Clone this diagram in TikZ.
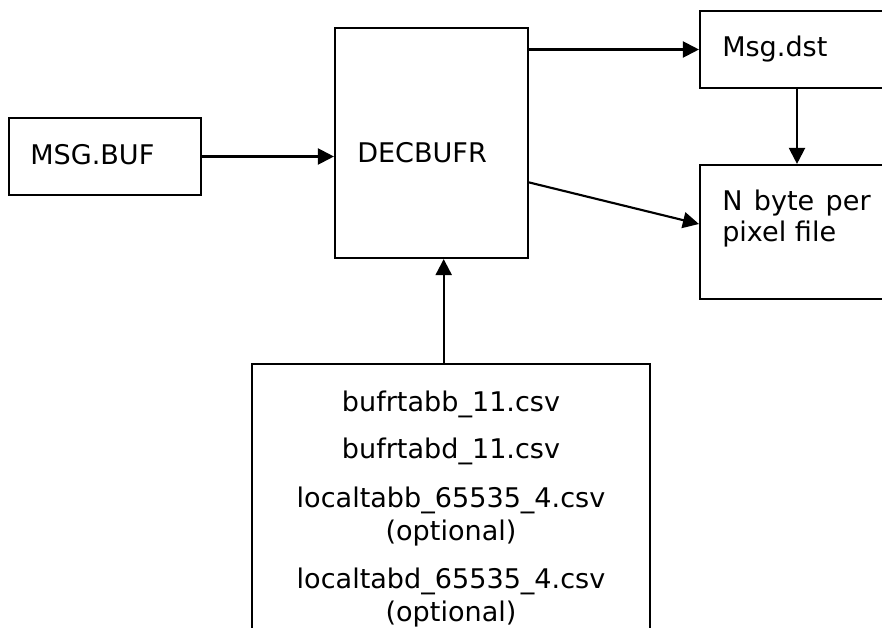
\documentclass[tikz,border=0pt]{standalone}
\usepackage{fontspec}
\setmainfont{DejaVu Sans}
\usetikzlibrary{arrows.meta}

\begin{document}
\begin{tikzpicture}[x=0.75pt,y=0.75pt,yscale=-1,xscale=1,
  box/.style={draw, line width=1.6pt, inner sep=0pt},
  flow/.style={line width=1.6pt, -{Triangle[length=12pt,width=12pt]}},
  txt/.style={inner sep=0pt, font=\fontsize{20.3}{24.75}\selectfont}]
%set diagram size 882 x 628
\useasboundingbox (0,0) rectangle (882,628);
\clip (0,0) rectangle (882,628);

%Shape: Rectangles
\node (msgbuf) [box, minimum width=144pt, minimum height=57.75pt] at (105,156.5) {};
\node (decbufr) [box, minimum width=144.75pt, minimum height=172.5pt] at (431.5,143) {};
\node (msgdst) [box, minimum width=145.5pt, minimum height=57.75pt] at (797,49.5) {};
\node (nbyte) [box, minimum width=145.5pt, minimum height=100.5pt] at (797,232) {};
\node (tables) [box, minimum width=298.5pt, minimum height=222pt] at (451,512) {};

% Text Node
\node (msgbuftxt) [txt, anchor=base west] at (30,164) {MSG.BUF};
% Text Node
\node (decbufrtxt) [txt, anchor=base west] at (357,162) {DECBUFR};
% Text Node
\node (msgdsttxt) [txt, anchor=base west] at (722,56) {Msg.dst};
% Text Node (base is the last line)
\node (nbytetxt) [txt, anchor=base west, align=left] at (722,241)
  {N\hspace{0.42em}byte\hspace{0.42em}per\\[-1.5pt]pixel file};
% Text Node
\node (tabb) [txt, anchor=base] at (451,411) {bufrtabb\_11.csv};
\node (tabd) [txt, anchor=base] at (451,458) {bufrtabd\_11.csv};
\node (loctabb) [txt, anchor=base, align=center] at (451,540) {localtabb\_65535\_4.csv\\(optional)};
\node (loctabd) [txt, anchor=base, align=center] at (451,621) {localtabd\_65535\_4.csv\\(optional)};

%Straight Lines
\draw [flow] (msgbuf.east) -- (msgbuf.east -| decbufr.west);
\draw [flow] (decbufr.east |- msgdst.west) -- (msgdst.west);
\draw [flow] (msgdst.south) -- (nbyte.north);
\draw [flow] (decbufr.-22.5) -- ([yshift=-6pt]nbyte.west);
\draw [flow] (tables.north -| decbufr.-84.8) -- (decbufr.-84.8);

\end{tikzpicture}
\end{document}
